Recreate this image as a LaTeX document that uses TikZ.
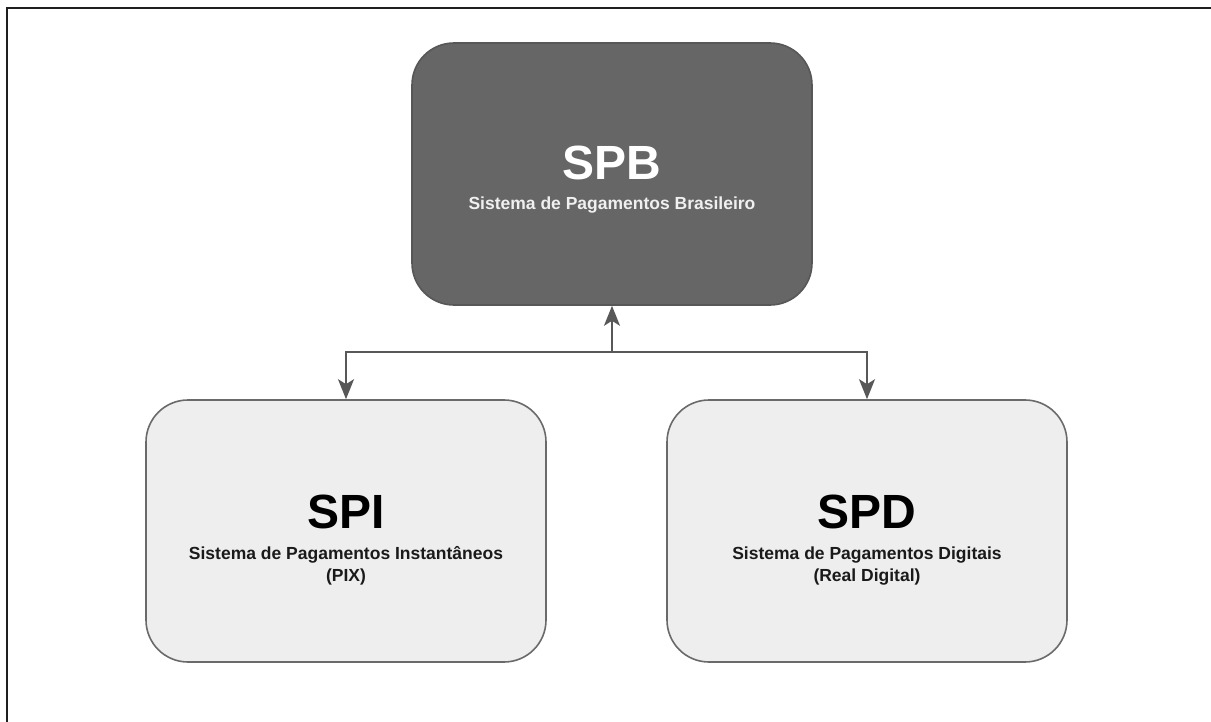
\documentclass[tikz,border=0pt]{standalone}
\usepackage{fontspec}
\setmainfont{Liberation Sans}
\usetikzlibrary{arrows.meta}
\definecolor{darkfill}{HTML}{666666}
\definecolor{darkline}{HTML}{575757}
\definecolor{lightfill}{HTML}{EEEEEE}
\definecolor{lightline}{HTML}{6A6A6A}
\definecolor{connline}{HTML}{585858}
\definecolor{subdark}{HTML}{1A1A1A}
\tikzset{
  sysbox/.style={rounded corners=42pt, minimum width=400pt, minimum height=262pt, inner sep=0pt, line width=1.6pt},
  topbox/.style={sysbox, fill=darkfill, draw=darkline},
  subbox/.style={sysbox, fill=lightfill, draw=lightline},
  titletext/.style={anchor=base, inner sep=0pt, font=\fontsize{48}{48}\selectfont\bfseries},
  subtext/.style={anchor=base, inner sep=0pt, font=\fontsize{17.5}{22}\selectfont\bfseries},
  conn/.style={draw=connline, line width=1.8pt},
  endarrow/.style={-{Stealth[length=20pt, width=16pt, inset=5pt]}},
  bothends/.style={{Stealth[length=20pt, width=16pt, inset=5pt]}-{Stealth[length=20pt, width=16pt, inset=5pt]}},
  frame/.style={draw=black!88, line width=2.4pt}
}
\begin{document}
\begin{tikzpicture}[x=1pt, y=-1pt]
\useasboundingbox (0,0) rectangle (1211,722);
\draw[frame] (7,722) -- (7,8) -- (1211,8);

\node[topbox] (spb) at (612,174) {};
\node[subbox] (spi) at (346,531) {};
\node[subbox] (spd) at (867,531) {};

\node[titletext, text=white] (spbt) at (612,180) {SPB};
\node[subtext, text=white!94!black] (spbs) at (612,210) {Sistema de Pagamentos Brasileiro};

\node[titletext, text=black] (spit) at (346,528) {SPI};
\node[subtext, text=subdark] (spis1) at (346,559) {Sistema de Pagamentos Instantâneos};
\node[subtext, text=subdark] (spis2) at (346,581) {(PIX)};

\node[titletext, text=black] (spdt) at (867,528) {SPD};
\node[subtext, text=subdark] (spds1) at (867,559) {Sistema de Pagamentos Digitais};
\node[subtext, text=subdark] (spds2) at (867,581) {(Real Digital)};

\coordinate (jc) at (612,352);
\coordinate (jl) at (346,352);
\coordinate (jr) at (867,352);
\draw[conn, endarrow] (jc) -- (spb.south);
\draw[conn, bothends] (spi.north) -- (jl) -- (jr) -- (spd.north);
\end{tikzpicture}
\end{document}
